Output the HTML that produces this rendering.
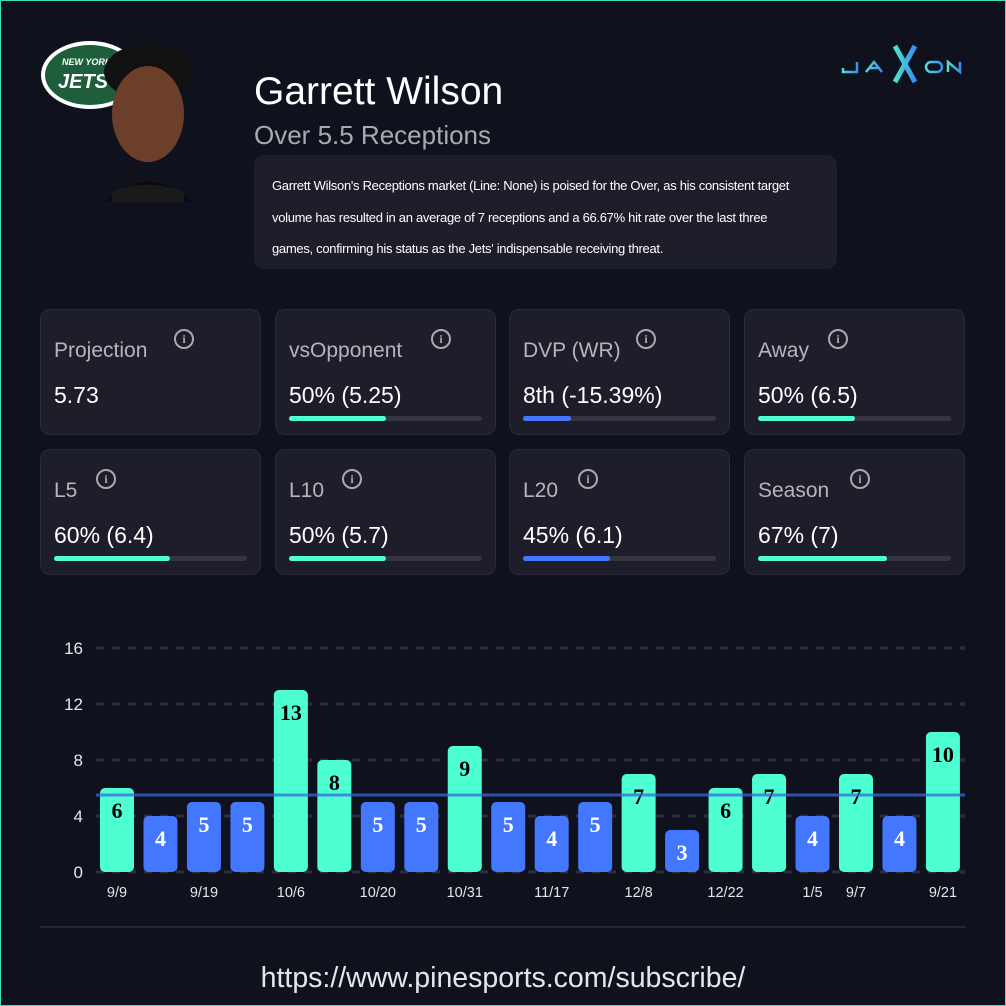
<!DOCTYPE html>
<html><head><meta charset="utf-8"><style>
*{margin:0;padding:0;box-sizing:border-box}
body{width:1006px;height:1006px;background:#0f111d;font-family:"Liberation Sans",sans-serif;position:relative;overflow:hidden}
.frame{position:absolute;left:0;top:0;width:1006px;height:1006px;border:1px solid #3ee0b8;pointer-events:none}
.abs{position:absolute}
.card{position:absolute;width:221px;height:126px;background:#1e1e2a;border:1px solid #2b2b37;border-radius:10px}
.card .lb{position:absolute;left:13px;top:29px;font-size:21px;color:#b5b5bd;white-space:nowrap}
.card .vl{position:absolute;left:13px;top:72px;font-size:23px;color:#fff;white-space:nowrap}
.card .tr{position:absolute;left:13px;top:106px;width:193px;height:5px;border-radius:3px;background:#35353f}
.card .fl{position:absolute;left:0;top:0;height:5px;border-radius:3px}
.ic{position:absolute;top:19px;width:20px;height:20px;border:2px solid #a9a9b1;border-radius:50%;color:#a9a9b1;font:bold 12px "Liberation Serif",serif;text-align:center;line-height:16px}
</style></head><body>
<svg class="abs" style="left:38px;top:38px" width="150" height="80">
<ellipse cx="52" cy="37" rx="49" ry="34" fill="#fff"/>
<ellipse cx="52" cy="37" rx="45" ry="30" fill="#1e5e3b"/>
<text x="24" y="27" font-size="9" font-weight="bold" font-style="italic" fill="#fff" font-family="Liberation Sans">NEW YORK</text>
<text x="20" y="50" font-size="20" font-weight="bold" font-style="italic" fill="#fff" font-family="Liberation Sans">JETS</text>
</svg>
<svg class="abs" style="left:100px;top:42px" width="100" height="160">
<ellipse cx="48" cy="30" rx="44" ry="28" fill="#111"/>
<ellipse cx="48" cy="72" rx="36" ry="48" fill="#6b3f2a"/>
<path d="M5 160 Q48 120 92 160 Z" fill="#0a0a0a"/>
<path d="M12 150 Q48 135 84 150 L84 160 L12 160Z" fill="#1a1a1a"/>
</svg>
<div class="abs" style="left:254px;top:70px;font-size:39px;color:#fff">Garrett Wilson</div>
<div class="abs" style="left:254px;top:120px;font-size:26px;color:#a9a9b1">Over 5.5 Receptions</div>
<div class="abs" style="left:254px;top:155px;width:583px;height:114px;background:#1e1e2a;border-radius:10px;padding:15px 0 0 18px;font-size:13px;letter-spacing:-0.3px;color:#fff;line-height:31.5px;white-space:nowrap">Garrett Wilson's Receptions market (Line: None) is poised for the Over, as his consistent target<br>volume has resulted in an average of 7 receptions and a 66.67% hit rate over the last three<br>games, confirming his status as the Jets' indispensable receiving threat.</div>
<svg class="abs" style="left:840px;top:40px" width="125" height="45">
<defs><linearGradient id="g" x1="0" x2="1"><stop offset="0" stop-color="#4de0d0"/><stop offset="1" stop-color="#3a8ff0"/></linearGradient></defs>
<g fill="none" stroke="url(#g)" stroke-width="2.5">
<path d="M3 28 L3 32 L17 32 L17 22"/><path d="M26 32 L34 22 L42 32 M29 28 L39 28"/>
<path d="M55 6 L75 42 M75 6 L55 42" stroke-width="5"/>
<rect x="86" y="22" width="16" height="10" rx="5"/><path d="M108 32 L108 22 L120 32 L120 22"/></g></svg>

<div class="card" style="left:40px;top:309px"><div class="lb">Projection</div><div class="ic" style="left:133px">i</div><div class="vl">5.73</div></div>
<div class="card" style="left:275px;top:309px"><div class="lb">vsOpponent</div><div class="ic" style="left:155px">i</div><div class="vl">50% (5.25)</div><div class="tr"><div class="fl" style="width:97px;background:#4effd2"></div></div></div>
<div class="card" style="left:509px;top:309px"><div class="lb">DVP (WR)</div><div class="ic" style="left:126px">i</div><div class="vl">8th (-15.39%)</div><div class="tr"><div class="fl" style="width:48px;background:#4477ff"></div></div></div>
<div class="card" style="left:744px;top:309px"><div class="lb">Away</div><div class="ic" style="left:83px">i</div><div class="vl">50% (6.5)</div><div class="tr"><div class="fl" style="width:97px;background:#4effd2"></div></div></div>
<div class="card" style="left:40px;top:449px"><div class="lb">L5</div><div class="ic" style="left:55px">i</div><div class="vl">60% (6.4)</div><div class="tr"><div class="fl" style="width:116px;background:#4effd2"></div></div></div>
<div class="card" style="left:275px;top:449px"><div class="lb">L10</div><div class="ic" style="left:66px">i</div><div class="vl">50% (5.7)</div><div class="tr"><div class="fl" style="width:97px;background:#4effd2"></div></div></div>
<div class="card" style="left:509px;top:449px"><div class="lb">L20</div><div class="ic" style="left:68px">i</div><div class="vl">45% (6.1)</div><div class="tr"><div class="fl" style="width:87px;background:#4477ff"></div></div></div>
<div class="card" style="left:744px;top:449px"><div class="lb">Season</div><div class="ic" style="left:105px">i</div><div class="vl">67% (7)</div><div class="tr"><div class="fl" style="width:129px;background:#4effd2"></div></div></div>

<svg class="abs" style="left:0;top:0" width="1006" height="1006" font-family="Liberation Sans">
<g stroke="#2e2e3a" stroke-width="3" stroke-dasharray="8,8">
<line x1="96" y1="648" x2="965" y2="648"/><line x1="96" y1="704" x2="965" y2="704"/><line x1="96" y1="760" x2="965" y2="760"/><line x1="96" y1="816" x2="965" y2="816"/><line x1="96" y1="872" x2="965" y2="872"/></g>
<g fill="#e6e6ea" font-size="17" text-anchor="end"><text x="83" y="654">16</text><text x="83" y="710">12</text><text x="83" y="766">8</text><text x="83" y="822">4</text><text x="83" y="878">0</text></g>
<g id="bars" font-family="Liberation Serif" font-weight="bold" font-size="22" text-anchor="middle"></g>
<line x1="96" y1="795" x2="965" y2="795" stroke="#3a66e0" stroke-opacity="0.75" stroke-width="3"/>
<g fill="#e6e6ea" font-size="14.5" text-anchor="middle" id="xl"></g>
<line x1="40" y1="927" x2="965" y2="927" stroke="#262633" stroke-width="2"/>
<text x="503" y="987" text-anchor="middle" font-size="28.5" fill="#e6e6ea">https://www.pinesports.com/subscribe/</text>
</svg>
<div class="frame"></div>
<script>
var v=[6,4,5,5,13,8,5,5,9,5,4,5,7,3,6,7,4,7,4,10];
var lab={0:"9/9",2:"9/19",4:"10/6",6:"10/20",8:"10/31",10:"11/17",12:"12/8",14:"12/22",16:"1/5",17:"9/7",19:"9/21"};
var s="",t="";
v.forEach(function(x,i){var l=100+i*43.47,top=872-x*14,hi=x>5.5,c=l+17;
s+='<rect x="'+l+'" y="'+top+'" width="34" height="'+(x*14)+'" rx="5" fill="'+(hi?'#4effd2':'#4477ff')+'"/>';
s+='<text x="'+c+'" y="'+(top+30)+'" fill="'+(hi?'#000':'#fff')+'">'+x+'</text>';
if(lab[i])t+='<text x="'+c+'" y="897">'+lab[i]+'</text>';});
document.getElementById("bars").innerHTML=s;document.getElementById("xl").innerHTML=t;
</script>
</body></html>
